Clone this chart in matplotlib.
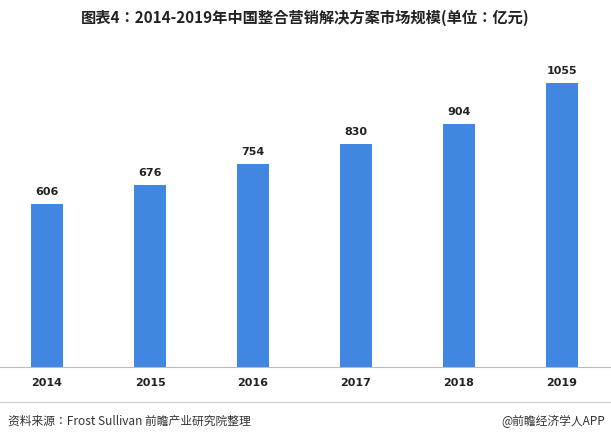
import matplotlib
matplotlib.use("Agg")
import matplotlib.pyplot as plt

years = ["2014", "2015", "2016", "2017", "2018", "2019"]
values = [606, 676, 754, 830, 904, 1055]

CJK = "Noto Sans CJK JP"
plt.rcParams["font.family"] = "sans-serif"
plt.rcParams["font.sans-serif"] = ["DejaVu Sans"]

W, H = 611, 442
fig = plt.figure(figsize=(W/100, H/100), dpi=100)

top_px, base_px = 40, 367
ax = fig.add_axes([0, 1 - base_px/H, 1, (base_px - top_px)/H])
xs = list(range(len(years)))
ax.bar(xs, values, width=0.31, color="#4186e0", zorder=2)
for x, v in zip(xs, values):
    ax.text(x, v + 25, str(v), ha="center", va="bottom", fontsize=8, fontweight="bold", color="#222222")
ax.set_xlim(-47/103, -47/103 + W/103)
ax.set_ylim(0, 1055 * (base_px - top_px) / 284)
for s in ["top", "right", "left"]:
    ax.spines[s].set_visible(False)
ax.spines["bottom"].set_color("#bbbbbb")
ax.set_yticks([])
ax.set_xticks(xs)
ax.set_xticklabels(years, fontsize=8, fontweight="bold", color="#222222")
ax.tick_params(axis="x", length=0, pad=8)

fig.text(0.5, 1 - 18/H, "图表4：2014-2019年中国整合营销解决方案市场规模(单位：亿元)",
         ha="center", va="center", fontsize=11, fontweight="bold", color="#222222", family=CJK)
fig.add_artist(plt.Line2D([0, 1], [1 - 402/H, 1 - 402/H], color="#cccccc", lw=0.8))
fig.text(8/W, 1 - 421/H, "资料来源：Frost Sullivan 前瞻产业研究院整理", ha="left", va="center",
         fontsize=8.5, color="#333333", family=CJK)
fig.text(1 - 6/W, 1 - 421/H, "@前瞻经济学人APP", ha="right", va="center",
         fontsize=8.5, color="#333333", family=CJK)
fig.savefig("out.png", dpi=100)
